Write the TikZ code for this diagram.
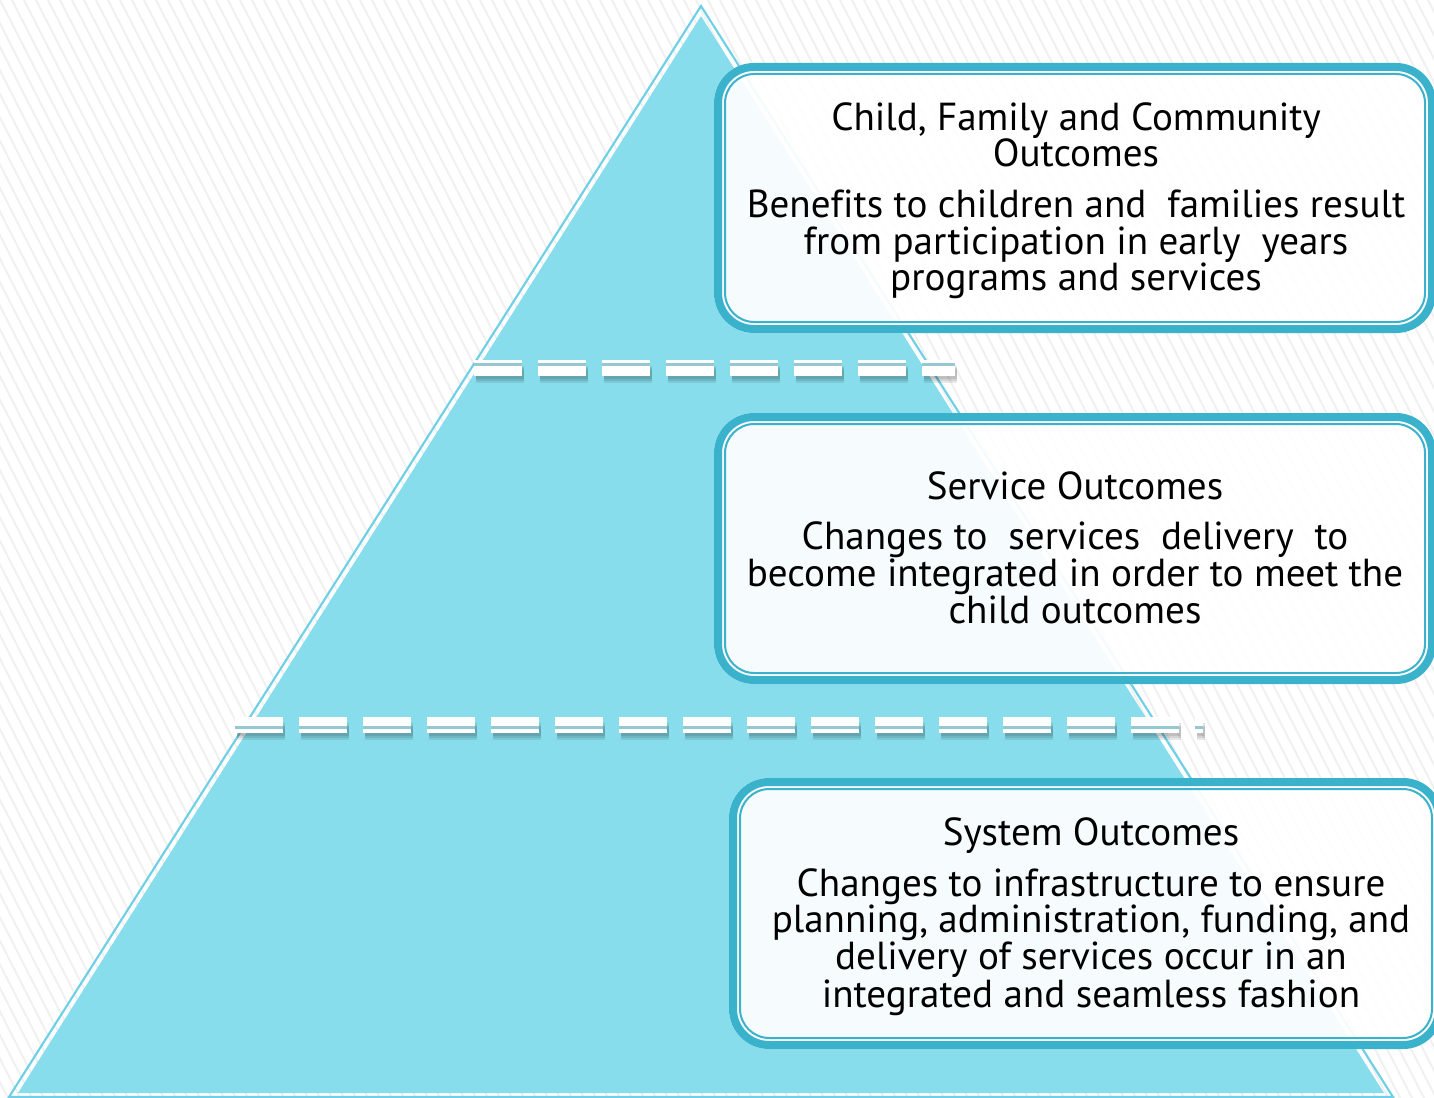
\documentclass[tikz,border=0pt]{standalone}
\usepackage{fontspec}
\setmainfont{PT Sans}[Ligatures=NoCommon]
\definecolor{trifill}{RGB}{136,221,237}
\definecolor{triline}{RGB}{110,208,230}
\definecolor{boxblue}{RGB}{58,178,203}
\definecolor{stripegray}{RGB}{240,240,240}
\definecolor{dashgap}{RGB}{150,200,212}
\newcommand{\obox}[5]{% name, L, T, R, B
  \fill[boxfill] (#2,#3) rectangle (#4,#5);
  \draw[boxouter] (#2+4,#3+4) rectangle (#4-4,#5-4);
  \draw[boxinner] (#2+11,#3+11) rectangle (#4-11,#5-11);
  \coordinate (#1) at ({(#2+#4)/2},{(#3+#5)/2});
}
\begin{document}
\begin{tikzpicture}[x=0.75pt,y=-0.75pt,
  stripe/.style={draw=stripegray,line width=1.4pt},
  triout/.style={draw=triline,line width=1.6pt,line join=miter},
  trifillst/.style={fill=trifill},
  boxfill/.style={fill=white,fill opacity=0.93,rounded corners=30pt},
  boxouter/.style={draw=boxblue,line width=6pt,rounded corners=27pt},
  boxinner/.style={draw=boxblue,line width=1.5pt,rounded corners=22pt},
  dpat/.style={dash pattern=on 36pt off 12pt},
  dwhite/.style={dpat,draw=white,line width=12pt},
  dshadow/.style={dpat,draw=black,line width=#1,draw opacity=0.09},
  dgap/.style={dpat,draw=dashgap,line width=2pt},
  txt/.style={anchor=base,inner sep=0pt,font=\fontsize{29.3}{32}\selectfont}
]
\useasboundingbox (0,0) rectangle (1434,1098);
\fill[white] (0,0) rectangle (1434,1098);
\begin{scope}
  \clip (0,0) rectangle (1434,1098);
  \foreach \k in {-50,...,125} \draw[stripe] (\k*12,0) -- ++(560,1098);
\end{scope}
% pyramid
\draw[triout] (701,6) -- (9,1097) -- (1393,1097) -- cycle;
\fill[trifillst] (701,16) -- (18,1093) -- (1384,1093) -- cycle;
% dashed separators
\coordinate (d1s) at (474,368);
\coordinate (d1e) at (955,368);
\coordinate (d2s) at (235,725);
\coordinate (d2e) at (1203,725);
\foreach \w in {13pt,10pt,7pt}{
  \draw[dshadow=\w] ([xshift=1.5pt,yshift=-5pt]d1s) -- ([xshift=1.5pt,yshift=-5pt]d1e);
  \draw[dshadow=\w] ([xshift=1.5pt,yshift=-5pt]d2s) -- ([xshift=1.5pt,yshift=-5pt]d2e);
}
\draw[dwhite] (d1s) -- (d1e);
\draw[dwhite] (d2s) -- (d2e);
\draw[dgap] ([yshift=2.6pt]d1s) -- ([yshift=2.6pt]d1e);
\draw[dgap] ([yshift=-1.9pt]d2s) -- ([yshift=-1.9pt]d2e);
% boxes
\obox{b1}{714}{63}{1436}{333}
\obox{b2}{714}{413}{1436}{684}
\obox{b3}{729}{778}{1443}{1049}
% texts
\node[txt] (t1a) at (1076,131) {Child, Family and Community};
\node[txt] (t1b) at (1076,167) {Outcomes};
\node[txt] (t1c) at (1076,218) {Benefits to children and\ \ families result};
\node[txt] (t1d) at (1076,255) {from participation in early\ \ years};
\node[txt] (t1e) at (1076,291) {programs and services};
\node[txt] (t2a) at (1075,499) {Service Outcomes};
\node[txt] (t2b) at (1075,549) {Changes to\ \ services\ \ delivery\ \ to};
\node[txt] (t2c) at (1075,586) {become integrated in order to meet the};
\node[txt] (t2d) at (1075,623) {child outcomes};
\node[txt] (t3a) at (1091,845) {System Outcomes};
\node[txt] (t3b) at (1091,896) {Changes to infrastructure to ensure};
\node[txt] (t3c) at (1091,932) {planning, administration, funding, and};
\node[txt] (t3d) at (1091,969) {delivery of services occur in an};
\node[txt] (t3e) at (1091,1007) {integrated and seamless fashion};
\end{tikzpicture}
\end{document}
